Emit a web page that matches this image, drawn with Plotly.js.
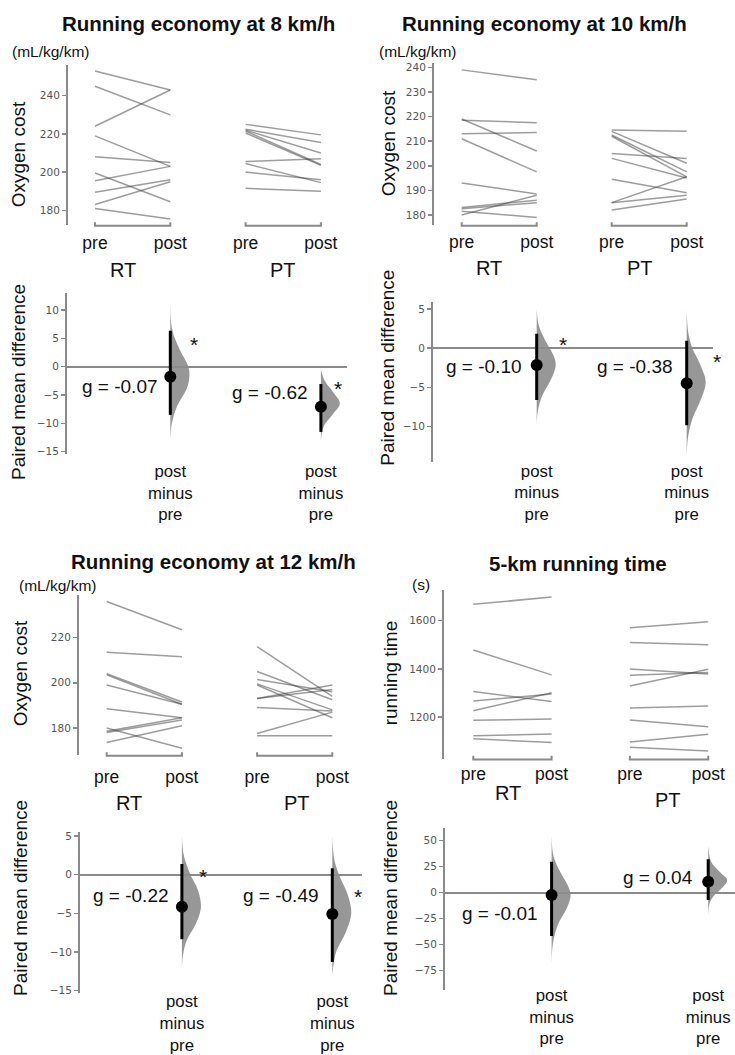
<!DOCTYPE html>
<html>
<head>
<meta charset="utf-8">
<script src="https://cdn.plot.ly/plotly-3.0.1.min.js"></script>
<style>html,body{margin:0;padding:0;background:#fff;}#chart{width:735px;height:1055px;}</style>
</head>
<body>
<div id="chart"></div>
<script>
// ---------------- DATA ----------------
const groups = ['RT', 'PT'];
const timepoints = ['pre', 'post'];
const diffLabel = 'post minus pre';
const panelTitles = ['Running economy at 8 km/h', 'Running economy at 10 km/h', 'Running economy at 12 km/h', '5-km running time'];
const unitLabels = ['(mL/kg/km)', '(mL/kg/km)', '(mL/kg/km)', '(s)'];
const yTitles = ['Oxygen cost', 'Oxygen cost', 'Oxygen cost', 'running time'];
const diffTitle = 'Paired mean difference';

// Running economy 8 km/h
const re8_rt_pre  = [253, 245, 224, 219, 208, 199.5, 195.5, 189.5, 183, 181];
const re8_rt_post = [243, 230, 243, 203, 205, 184.5, 203, 196, 195, 175.5];
const re8_pt_pre  = [225, 222.5, 222, 221.5, 220.5, 205.5, 204.5, 200, 191.5];
const re8_pt_post = [219.5, 215.5, 210, 204, 203.5, 207, 194.5, 196, 190];
// Running economy 10 km/h
const re10_rt_pre  = [239, 218.5, 219, 213, 211, 193, 183, 182.5, 180, 181.5];
const re10_rt_post = [235, 217.5, 206, 213.5, 197.5, 188.5, 186, 185, 188, 179];
const re10_pt_pre  = [214.5, 214, 212.5, 212, 205, 203, 194.5, 185, 185, 182];
const re10_pt_post = [214, 201, 197.5, 195.5, 203, 195, 189, 195.5, 188, 186.5];
// Running economy 12 km/h
const re12_rt_pre  = [236, 213.5, 204, 203.5, 199, 188.5, 178.5, 178, 180, 173.5];
const re12_rt_post = [223.5, 211.5, 191.5, 190.5, 190.5, 184.5, 184.5, 183.5, 171, 181];
const re12_pt_pre  = [216, 205, 201.5, 199.5, 199, 193, 193, 189, 177.5, 176.5];
const re12_pt_post = [194, 192.5, 196, 188, 184.5, 197, 199, 187.5, 187, 176.5];
// 5-km running time
const t5_rt_pre  = [1668, 1478, 1306, 1266, 1226, 1186, 1122, 1110];
const t5_rt_post = [1698, 1375, 1264, 1296, 1301, 1192, 1129, 1094];
const t5_pt_pre  = [1571, 1509, 1399, 1373, 1329, 1237, 1188, 1096, 1074];
const t5_pt_post = [1596, 1500, 1379, 1385, 1398, 1246, 1160, 1128, 1059];

// Paired mean differences [RT, PT] with 95% CI
const re8_diff  = [-1.76, -7.06],  re8_lo  = [-8.5, -11.5],  re8_hi  = [6.35, -3.06];
const re10_diff = [-2.13, -4.47],  re10_lo = [-6.6, -9.8],   re10_hi = [1.83, 0.94];
const re12_diff = [-4.14, -5.08],  re12_lo = [-8.36, -11.3], re12_hi = [1.38, 0.83];
const t5_diff   = [-2.2, 10.6],    t5_lo   = [-41.6, -7],    t5_hi   = [29.8, 32.1];

// Hedges' g labels [RT, PT]
const re8_g  = ['-0.07', '-0.62'];
const re10_g = ['-0.10', '-0.38'];
const re12_g = ['-0.22', '-0.49'];
const t5_g   = ['-0.01', '0.04'];

// Bootstrap distribution profiles (value, relative density), [RT, PT]
const re8_dist_y  = [[12, 6.5, 3, 0, -2, -4, -7, -10, -13], [-0.5, -2.5, -4.5, -6.5, -8.5, -10.5, -13]];
const re8_dist_w  = [[0, 0.1, 0.5, 0.95, 1, 0.85, 0.35, 0.08, 0], [0, 0.2, 0.65, 1, 0.6, 0.15, 0]];
const re10_dist_y = [[5, 3, 1, -1, -2.2, -4, -6, -8, -10], [5, 2, 0, -2, -4.3, -6.5, -9, -11.5, -14]];
const re10_dist_w = [[0, 0.1, 0.45, 0.9, 1, 0.75, 0.3, 0.06, 0], [0, 0.08, 0.3, 0.7, 1, 0.75, 0.3, 0.06, 0]];
const re12_dist_y = [[5, 2.5, 0, -2, -4.3, -6.5, -8.5, -10.5, -12], [5, 2, 0, -2.5, -5, -7.5, -10, -13]];
const re12_dist_w = [[0, 0.1, 0.45, 0.85, 1, 0.7, 0.25, 0.05, 0], [0, 0.1, 0.35, 0.8, 1, 0.7, 0.2, 0]];
const t5_dist_y   = [[55, 35, 20, 5, -3, -15, -30, -50, -80], [45, 30, 20, 12, 5, -3, -10, -22]];
const t5_dist_w   = [[0, 0.1, 0.45, 0.9, 1, 0.8, 0.35, 0.06, 0], [0, 0.15, 0.6, 1, 0.75, 0.3, 0.08, 0]];

// Significance markers shown [RT, PT]
const re8_sig = [true, true], re10_sig = [true, true], re12_sig = [true, true], t5_sig = [false, false];

// ---------------- LAYOUT HELPERS ----------------
const W = 735, H = 1055;
const px = x => x / W, py = y => 1 - y / H;
const FONT = 'Liberation Sans, Arial, Helvetica, sans-serif';
const TICKFONT = 'DejaVu Sans, sans-serif';
const AXC = '#8a8a8a';
const TXT = '#111';

const panels = [
  {pre: [re8_rt_pre, re8_pt_pre], post: [re8_rt_post, re8_pt_post], diff: re8_diff, lo: re8_lo, hi: re8_hi, g: re8_g, dy: re8_dist_y, dw: re8_dist_w, sig: re8_sig,
   top: {L: 68, R: 340, T: 65, B: 225}, bot: {L: 67, R: 347, T: 293, B: 454}, p0: 95, unit: 75.3,
   yTop: [172.3, 256.1], dTop: 20, yBot: [-15.4, 13.0], dBot: 5, soTop: 5, soBot: 5,
   title: [198.5, 23], units: [51, 52], yt: [19.3, 154], dt: [18.3, 381.7],
   grp: [[123.3, 270], [282.5, 270]], gl: [[119.5, 386], [269.5, 393]], star: [[194, 339], [338, 384]]},
  {pre: [re10_rt_pre, re10_pt_pre], post: [re10_rt_post, re10_pt_post], diff: re10_diff, lo: re10_lo, hi: re10_hi, g: re10_g, dy: re10_dist_y, dw: re10_dist_w, sig: re10_sig,
   top: {L: 434, R: 705, T: 63, B: 225}, bot: {L: 433, R: 713, T: 301.7, B: 461.7}, p0: 461.7, unit: 75,
   yTop: [175.9, 241.8], dTop: 10, yBot: [-14.46, 5.93], dBot: 5, soTop: 4, soBot: -3,
   title: [544.5, 23], units: [417.5, 51.7], yt: [388, 143.3], dt: [386.7, 368],
   grp: [[489, 268], [640, 268]], gl: [[484, 366.7], [635, 366.7]], star: [[563, 340], [716.7, 356]]},
  {pre: [re12_rt_pre, re12_pt_pre], post: [re12_rt_post, re12_pt_post], diff: re12_diff, lo: re12_lo, hi: re12_hi, g: re12_g, dy: re12_dist_y, dw: re12_dist_w, sig: re12_sig,
   top: {L: 79, R: 350, T: 595, B: 755}, bot: {L: 80, R: 361.7, T: 831.7, B: 993.3}, p0: 106.7, unit: 75.2,
   yTop: [168, 238.9], dTop: 20, yBot: [-15.34, 5.56], dBot: 5, soTop: 9, soBot: -4,
   title: [213.3, 561], units: [57.5, 585], yt: [20, 673.3], dt: [20, 898],
   grp: [[129, 802.5], [296.7, 802.5]], gl: [[130.8, 895], [280.8, 895]], star: [[202.7, 871], [358.3, 891.7]]},
  {pre: [t5_rt_pre, t5_pt_pre], post: [t5_rt_post, t5_pt_post], diff: t5_diff, lo: t5_lo, hi: t5_hi, g: t5_g, dy: t5_dist_y, dw: t5_dist_w, sig: t5_sig,
   top: {L: 444, R: 725, T: 590, B: 758.7}, bot: {L: 445, R: 735, T: 828.3, B: 990}, p0: 473.3, unit: 78.3,
   yTop: [1026.8, 1727.5], dTop: 200, yBot: [-93.6, 61.9], dBot: 25, soTop: 3, soBot: -7,
   title: [577.5, 563], units: [421, 584.3], yt: [390, 673.3], dt: [390, 898],
   grp: [[508, 793], [668, 800]], gl: [[499.7, 913.3], [658.3, 877.3]], star: [null, null]}
];

const VIOLIN_PX = 19;
const traces = [];
const layout = {
  width: W, height: H, margin: {l: 0, r: 0, t: 0, b: 0},
  paper_bgcolor: '#fff', plot_bgcolor: 'rgba(0,0,0,0)', showlegend: false,
  font: {family: FONT, color: TXT}, annotations: [], shapes: []
};

function ann(text, x, y, size, extra) {
  layout.annotations.push(Object.assign({
    text: text, xref: 'paper', yref: 'paper', x: px(x), y: py(y),
    xanchor: 'center', yanchor: 'middle', showarrow: false,
    font: {family: FONT, size: size, color: TXT}
  }, extra || {}));
}

panels.forEach((P, k) => {
  const nTop = 2 * k + 1, nBot = 2 * k + 2;
  const xa = i => (i === 1 ? 'x' : 'x' + i), ya = i => (i === 1 ? 'y' : 'y' + i);
  const key = (ax, i) => (i === 1 ? ax : ax + i);
  const xr = r => [(r.L - P.p0) / P.unit, (r.R - P.p0) / P.unit];

  // --- top slope graph ---
  layout[key('xaxis', nTop)] = {
    domain: [px(P.top.L), px(P.top.R)], range: xr(P.top), anchor: ya(nTop),
    showline: false, showgrid: false, zeroline: false,
    tickmode: 'array', tickvals: [0, 1, 2, 3],
    ticktext: [timepoints[0], timepoints[1], timepoints[0], timepoints[1]],
    ticks: '', ticklabelstandoff: P.soTop,
    tickfont: {family: FONT, size: 17.5, color: TXT}, fixedrange: true
  };
  layout[key('yaxis', nTop)] = {
    domain: [py(P.top.B), py(P.top.T)], range: P.yTop, anchor: xa(nTop),
    showline: true, linecolor: AXC, linewidth: 2, showgrid: false, zeroline: false,
    dtick: P.dTop, tick0: 0, ticks: 'outside', ticklen: 4, tickwidth: 1.5, tickcolor: AXC,
    tickfont: {family: TICKFONT, size: 10.5, color: '#555'}, fixedrange: true
  };
  groups.forEach((gname, gi) => {
    const xs = [], ys = [];
    P.pre[gi].forEach((v, i) => { xs.push(2 * gi, 2 * gi + 1, null); ys.push(v, P.post[gi][i], null); });
    traces.push({type: 'scatter', mode: 'lines', x: xs, y: ys, xaxis: xa(nTop), yaxis: ya(nTop),
      line: {color: 'rgba(60,60,60,0.5)', width: 1.5}, hoverinfo: 'skip', connectgaps: false});
    // bracket under group
    const yb = py(P.top.B) - 0.0008, e = 0.0035;
    layout.shapes.push({type: 'path', xref: xa(nTop), yref: 'paper',
      path: `M${2 * gi},${yb + e} L${2 * gi},${yb} L${2 * gi + 1},${yb} L${2 * gi + 1},${yb + e}`,
      line: {color: AXC, width: 2}});
    ann(gname, P.grp[gi][0], P.grp[gi][1], 20);
  });

  // --- bottom difference plot ---
  const dl = diffLabel.split(' ').join('<br>');
  layout[key('xaxis', nBot)] = {
    domain: [px(P.bot.L), px(P.bot.R)], range: xr(P.bot), anchor: ya(nBot),
    showline: false, showgrid: false, zeroline: false,
    tickmode: 'array', tickvals: [1, 3], ticktext: [dl, dl],
    ticks: '', ticklabelstandoff: P.soBot,
    tickfont: {family: FONT, size: 16.8, color: TXT}, fixedrange: true
  };
  layout[key('yaxis', nBot)] = {
    domain: [py(P.bot.B), py(P.bot.T)], range: P.yBot, anchor: xa(nBot),
    showline: true, linecolor: AXC, linewidth: 2, showgrid: false,
    zeroline: true, zerolinecolor: AXC, zerolinewidth: 1.8,
    dtick: P.dBot, tick0: 0, ticks: 'outside', ticklen: 4, tickwidth: 1.5, tickcolor: AXC,
    tickfont: {family: TICKFONT, size: 10.5, color: '#555'}, fixedrange: true
  };
  const scale = VIOLIN_PX / P.unit;
  groups.forEach((gname, gi) => {
    const pos = 2 * gi + 1;
    traces.push({type: 'scatter', mode: 'lines', xaxis: xa(nBot), yaxis: ya(nBot),
      x: P.dw[gi].map(w => pos + w * scale), y: P.dy[gi], fill: 'toself',
      fillcolor: 'rgba(140,140,140,0.9)', line: {width: 0, shape: 'spline', smoothing: 1, color: 'rgba(140,140,140,0.9)'},
      hoverinfo: 'skip'});
    traces.push({type: 'scatter', mode: 'lines', xaxis: xa(nBot), yaxis: ya(nBot),
      x: [pos, pos], y: [P.lo[gi], P.hi[gi]], line: {color: '#000', width: 3}, hoverinfo: 'skip'});
    traces.push({type: 'scatter', mode: 'markers', xaxis: xa(nBot), yaxis: ya(nBot),
      x: [pos], y: [P.diff[gi]], marker: {color: '#000', size: 12}, hoverinfo: 'skip'});
    ann('g = ' + P.g[gi], P.gl[gi][0], P.gl[gi][1], 19);
    if (P.sig[gi]) ann('*', P.star[gi][0], P.star[gi][1] + 5, 21);
  });

  // --- text labels ---
  ann('<b>' + panelTitles[k] + '</b>', P.title[0], P.title[1], 20.5);
  ann(unitLabels[k], P.units[0], P.units[1], 15.5);
  ann(yTitles[k], P.yt[0], P.yt[1], 19, {textangle: -90});
  ann(diffTitle, P.dt[0], P.dt[1], 19, {textangle: -90});
});

Plotly.newPlot('chart', traces, layout, {staticPlot: true, displayModeBar: false});
</script>
</body>
</html>
